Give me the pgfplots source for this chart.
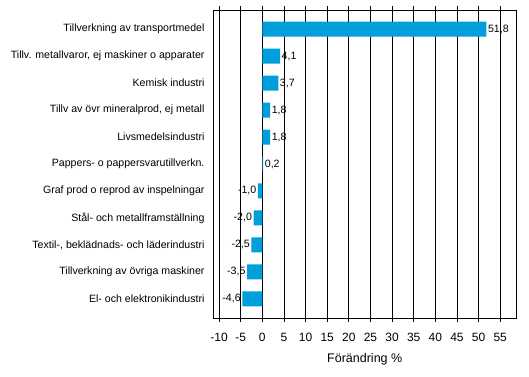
\documentclass[border=0pt]{standalone}
\usepackage{fontspec}
\setmainfont{Liberation Sans}
\usepackage{pgfplots}
\pgfplotsset{compat=1.18}
\definecolor{barblue}{RGB}{0,158,219}
\begin{document}
\begin{tikzpicture}
\begin{axis}[name=ax, xbar, scale only axis, width=302.5bp, height=308bp,
  xmin=-11.28, xmax=58.65, ymin=-0.71, ymax=10.71,
  xtick={-10,-5,...,55}, ytick={0,...,10},
  yticklabels={El- och elektronikindustri, Tillverkning av övriga maskiner, {Textil-, beklädnads- och läderindustri}, Stål- och metallframställning, Graf prod o reprod av inspelningar, Pappers- o pappersvarutillverkn., Livsmedelsindustri, {Tillv av övr mineralprod, ej metall}, Kemisk industri, {Tillv. metallvaror, ej maskiner o apparater}, Tillverkning av transportmedel},
  xmajorgrids, grid style={black, line width=0.8bp},
  tick align=outside, ytick style={draw=none}, xtick style={black, line width=0.8bp}, major tick length=4bp,
  axis line style={black, line width=0.8bp},
  yticklabel style={font=\fontsize{10.6bp}{13bp}\selectfont, black, xshift=-1.5bp},
  xticklabel style={font=\fontsize{12bp}{14bp}\selectfont, black, yshift=-7.5bp},
  xlabel={Förändring \%}, xlabel style={font=\fontsize{12.5bp}{14bp}\selectfont, yshift=-5bp},
  bar width=15bp, bar shift=0pt,
  nodes near coords={\pgfmathprintnumber[use comma,fixed,fixed zerofill,precision=1]{\pgfplotspointmeta}},
  nodes near coords align=horizontal,
  every node near coord/.append style={font=\fontsize{10.6bp}{13bp}\selectfont, black, inner sep=1.5bp},
  /pgf/number format/assume math mode=true,
]
\addplot[fill=barblue, draw=none] coordinates {
(-4.6,0) (-3.5,1) (-2.5,2) (-2.0,3) (-1.0,4) (0.2,5) (1.8,6) (1.8,7) (3.7,8) (4.1,9) (51.8,10)};
\end{axis}
\pgfresetboundingbox
\path[use as bounding box] ([shift={(-213.5bp,-59bp)}]ax.south west) rectangle ([shift={(13bp,10bp)}]ax.north east);
\end{tikzpicture}
\end{document}
